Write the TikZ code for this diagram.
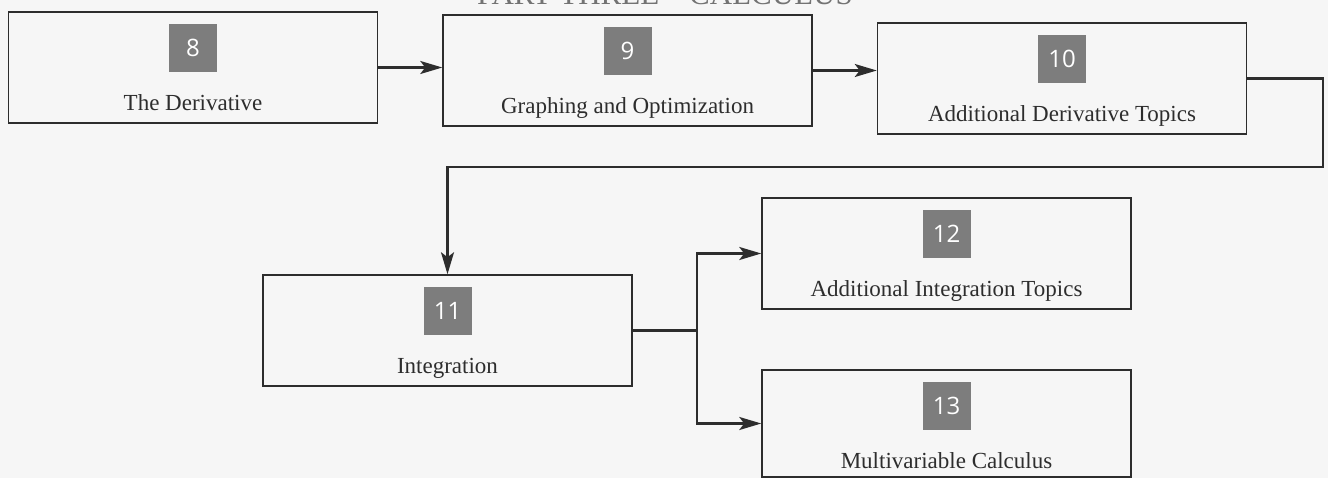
\documentclass[tikz,border=0pt]{standalone}
\usepackage{fontspec}
\setmainfont{Liberation Serif}
\newfontfamily\numfont{Open Sans}
\usetikzlibrary{arrows.meta,positioning}

\definecolor{chapgray}{RGB}{125,125,125}
\definecolor{paper}{RGB}{246,246,246}
\definecolor{ink}{RGB}{45,45,45}

\tikzset{
  chapbox/.style={draw=ink, line width=1.5pt, minimum width=369pt, minimum height=111pt, inner sep=0pt},
  chapnum/.style={fill=chapgray, text=white, minimum size=48pt, inner sep=0pt, font=\numfont\fontsize{24}{28}\selectfont},
  chaptitle/.style={anchor=base, text=ink, font=\fontsize{23}{27}\selectfont},
  parthead/.style={anchor=base, text=black!55, font=\fontsize{31}{35}\selectfont},
  flowline/.style={draw=ink, line width=2.4pt},
  flow/.style={flowline, -{Stealth[length=22pt,width=13pt,inset=5pt]}},
}

\begin{document}
\begin{tikzpicture}[x=1pt,y=-1pt]

\useasboundingbox (0,0) rectangle (1328,478);
\clip (0,0) rectangle (1328,478);
\fill[paper] (0,0) rectangle (1328,478);

% heading, cut by the top edge
\node[parthead] (part) at (665,5) {PART THREE\hspace{30pt}CALCULUS};

% chapters
\node[chapbox] (b8) at (193,67.5) {};
\node[chapnum] (n8) at ([yshift=-37pt]b8.north) {8};
\node[chaptitle] (t8) at ([yshift=-99pt]b8.north) {The Derivative};

\node[chapbox] (b9) at (627.5,70.5) {};
\node[chapnum] (n9) at ([yshift=-37pt]b9.north) {9};
\node[chaptitle] (t9) at ([yshift=-99pt]b9.north) {Graphing and Optimization};

\node[chapbox] (b10) at (1062,78.5) {};
\node[chapnum] (n10) at ([yshift=-37pt]b10.north) {10};
\node[chaptitle] (t10) at ([yshift=-99pt]b10.north) {Additional Derivative Topics};

\node[chapbox] (b11) at (447.5,330.5) {};
\node[chapnum] (n11) at ([yshift=-37pt]b11.north) {11};
\node[chaptitle] (t11) at ([yshift=-99pt]b11.north) {Integration};

\node[chapbox] (b12) at (946.5,253.5) {};
\node[chapnum] (n12) at ([yshift=-37pt]b12.north) {12};
\node[chaptitle] (t12) at ([yshift=-99pt]b12.north) {Additional Integration Topics};

\node[chapbox, minimum height=107pt] (b13) at (946.5,423.5) {};
\node[chapnum] (n13) at ([yshift=-37pt]b13.north) {13};
\node[chaptitle] (t13) at ([yshift=-99pt]b13.north) {Multivariable Calculus};

% connectors
\coordinate (turn) at (1323,167);
\coordinate (split) at ([xshift=64pt]b11.east);

\draw[flow] (b8.east) -- (b8.east -| b9.west);
\draw[flow] (b9.east) -- (b9.east -| b10.west);
\draw[flow] (b10.east) -| (turn) -| (b11.north);
\draw[flowline] (b11.east) -- (split);
\draw[flow] (split) |- (b12.west);
\draw[flow] (split) |- (b13.west);

\end{tikzpicture}
\end{document}
